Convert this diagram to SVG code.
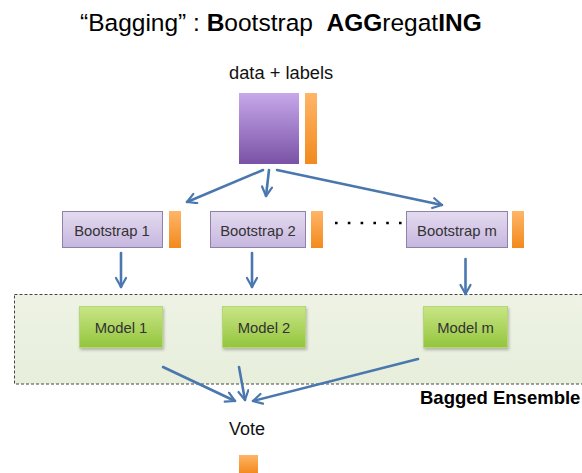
<svg xmlns="http://www.w3.org/2000/svg" width="582" height="473" viewBox="0 0 582 473">
  <defs>
    <linearGradient id="gData" x1="0" y1="0" x2="0" y2="1">
      <stop offset="0" stop-color="#c7a8ea"/>
      <stop offset="1" stop-color="#7a52a6"/>
    </linearGradient>
    <linearGradient id="gLabel" x1="0" y1="0" x2="0" y2="1">
      <stop offset="0" stop-color="#ffb567"/>
      <stop offset="1" stop-color="#f28a1e"/>
    </linearGradient>
    <linearGradient id="gBoot" x1="0" y1="0" x2="0" y2="1">
      <stop offset="0" stop-color="#e4dbf0"/>
      <stop offset="1" stop-color="#c6b6df"/>
    </linearGradient>
    <linearGradient id="gModel" x1="0" y1="0" x2="0" y2="1">
      <stop offset="0" stop-color="#c9e585"/>
      <stop offset="1" stop-color="#93c53d"/>
    </linearGradient>
    <linearGradient id="gEnsemble" x1="0" y1="0" x2="0" y2="1">
      <stop offset="0" stop-color="#eef3e5"/>
      <stop offset="1" stop-color="#e7eedb"/>
    </linearGradient>
    <filter id="shadow" x="-10%" y="-10%" width="130%" height="140%">
      <feDropShadow dx="1" dy="2" stdDeviation="1.5" flood-color="#000" flood-opacity="0.25"/>
    </filter>
    <marker id="arrow" markerUnits="userSpaceOnUse" markerWidth="14" markerHeight="14" refX="11" refY="6" orient="auto">
      <path d="M2,1 L11,6 L2,11" fill="none" stroke="#4a78ae" stroke-width="2.2" stroke-linecap="round" stroke-linejoin="round"/>
    </marker>
    <style>
      .title { font-family: "Liberation Sans", Arial, sans-serif; font-size: 24.5px; fill: #000; white-space: pre; }
      .b { font-weight: bold; }
      .plain { font-family: "Liberation Sans", Arial, sans-serif; font-size: 18px; fill: #111; }
      .lbl { font-family: "Liberation Sans", Arial, sans-serif; font-size: 14.8px; fill: #333; text-anchor: middle; }
      .boot { fill: url(#gBoot); stroke: #8f82a8; stroke-width: 1; }
      .model { fill: url(#gModel); stroke: #b5d77a; stroke-width: 1; filter: url(#shadow); }
      .bar { fill: url(#gLabel); }
      .conn { stroke: #4a78ae; stroke-width: 2.6; fill: none; marker-end: url(#arrow); stroke-linecap: round; }
    </style>
  </defs>

  <rect width="582" height="473" fill="#fff"/>

  <!-- heading -->
  <text class="title" x="80" y="31" xml:space="preserve">“Bagging” : <tspan class="b">B</tspan>ootstrap  <tspan class="b">AGG</tspan>regat<tspan class="b">ING</tspan></text>

  <!-- ensemble region -->
  <g id="ensemble">
    <rect x="14.5" y="294.5" width="580" height="89.5" fill="url(#gEnsemble)" stroke="#444" stroke-width="1" stroke-dasharray="3 2"/>
    <text class="plain b" x="420" y="404" style="font-weight:bold;font-size:18.5px;fill:#000">Bagged Ensemble</text>
  </g>

  <!-- source data -->
  <g id="data">
    <text class="plain" x="229" y="79" style="font-size:18.3px">data + labels</text>
    <rect x="239" y="93" width="60" height="71" fill="url(#gData)"/>
    <rect class="bar" x="305" y="93" width="12" height="71"/>
  </g>

  <!-- bootstrap samples -->
  <g id="bootstrap1">
    <rect class="boot" x="62.5" y="211.5" width="100" height="36"/>
    <text class="lbl" x="112" y="236">Bootstrap 1</text>
    <rect class="bar" x="169" y="211" width="12" height="37"/>
  </g>
  <g id="bootstrap2">
    <rect class="boot" x="210.5" y="211.5" width="95" height="36"/>
    <text class="lbl" x="258" y="236">Bootstrap 2</text>
    <rect class="bar" x="311" y="211" width="12" height="37"/>
  </g>
  <g id="ellipsis">
    <line x1="335" y1="223" x2="402" y2="223" stroke="#000" stroke-width="2.6" stroke-dasharray="2.6 10.2"/>
  </g>
  <g id="bootstrapm">
    <rect class="boot" x="406.5" y="211.5" width="101" height="36"/>
    <text class="lbl" x="457" y="236">Bootstrap m</text>
    <rect class="bar" x="512" y="211" width="12" height="37"/>
  </g>

  <!-- models -->
  <g id="model1">
    <rect class="model" x="79.5" y="306.5" width="83" height="41"/>
    <text class="lbl" x="121" y="333">Model 1</text>
  </g>
  <g id="model2">
    <rect class="model" x="222.5" y="306.5" width="83" height="41"/>
    <text class="lbl" x="264" y="333">Model 2</text>
  </g>
  <g id="modelm">
    <rect class="model" x="423.5" y="306.5" width="84" height="41"/>
    <text class="lbl" x="465.5" y="333">Model m</text>
  </g>

  <!-- vote -->
  <g id="vote">
    <text class="plain" x="229" y="435">Vote</text>
    <rect class="bar" x="239" y="455" width="19" height="18"/>
  </g>

  <!-- connectors -->
  <g id="connectors">
    <line class="conn" x1="263" y1="170" x2="187" y2="202"/>
    <line class="conn" x1="269" y1="170" x2="266" y2="196"/>
    <line class="conn" x1="277" y1="170" x2="442" y2="205"/>
    <line class="conn" x1="121" y1="253" x2="121" y2="287"/>
    <line class="conn" x1="252" y1="253" x2="252" y2="287"/>
    <line class="conn" x1="465.5" y1="259" x2="465.5" y2="294"/>
    <line class="conn" x1="163" y1="367" x2="235" y2="401"/>
    <line class="conn" x1="239" y1="367" x2="245" y2="400"/>
    <line class="conn" x1="418" y1="359" x2="253" y2="401"/>
  </g>
</svg>
